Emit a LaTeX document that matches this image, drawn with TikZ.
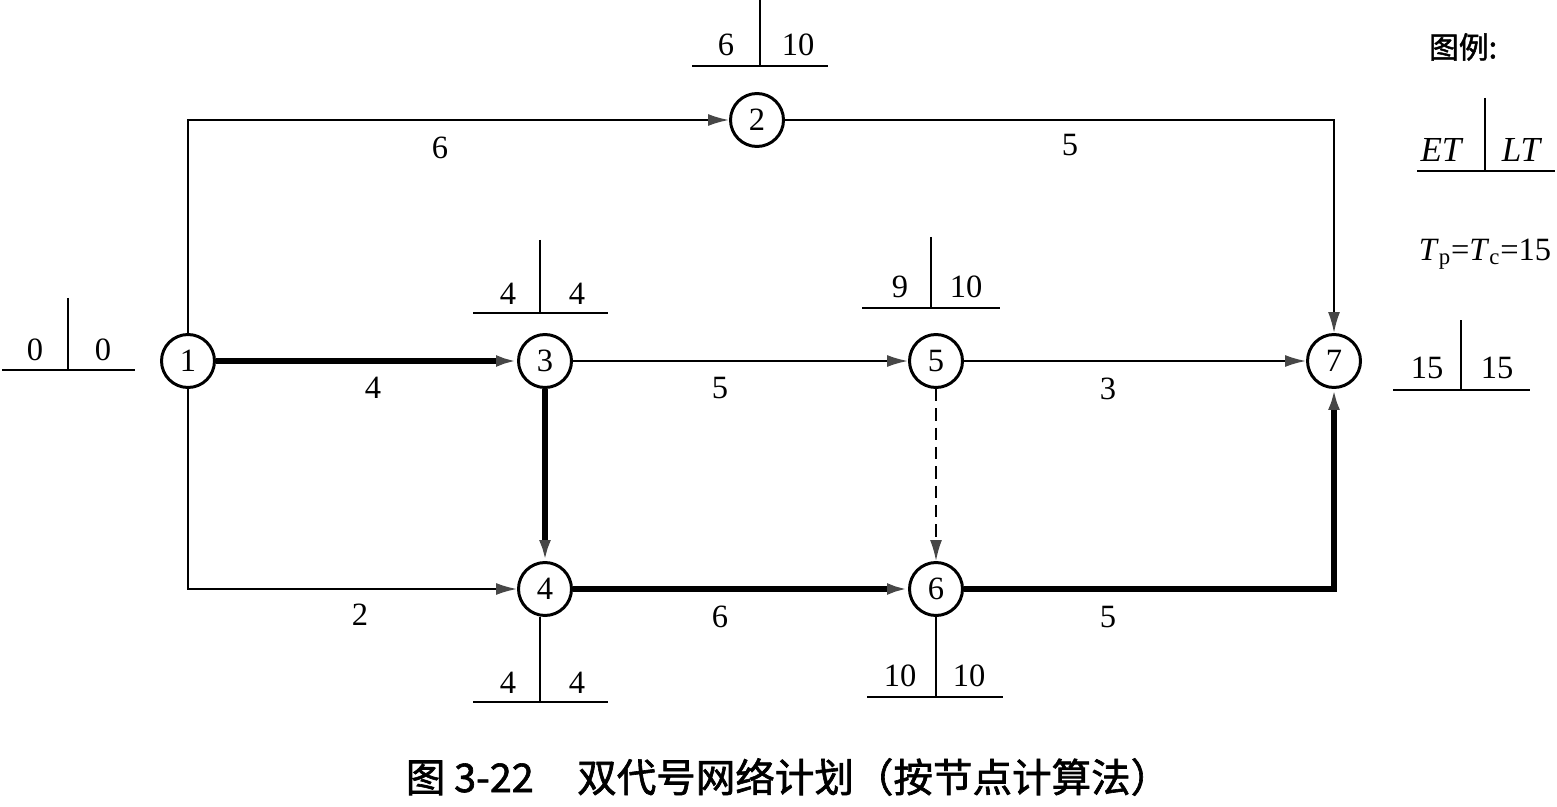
\documentclass[tikz,border=0pt]{standalone}
\usepackage{fontspec}
\setmainfont{Liberation Serif}
\newfontfamily\cjk{Noto Sans CJK SC}[FakeBold=1.6]
\usetikzlibrary{arrows.meta}
\begin{document}
\begin{tikzpicture}[x=0.02cm,y=-0.02cm,
  ev/.style={circle,draw,line width=1.7pt,minimum size=1.06cm,inner sep=0pt,fill=white,
    font=\fontsize{18.5}{20}\selectfont},
  tip/.style={-{Latex[length=0.42cm,width=0.24cm,color=black!72]}},
  act/.style={tip,line width=1.1pt},
  crit/.style={tip,line width=3.4pt},
  dum/.style={act,dash pattern=on 7pt off 4pt},
  num/.style={inner sep=0pt,font=\fontsize{18.5}{20}\selectfont},
  tl/.style={line width=1.1pt}]
\useasboundingbox (0,0) rectangle (1557,807);

% events
\node[ev] (n1) at (188,361) {1};
\node[ev] (n2) at (757,120) {2};
\node[ev] (n3) at (545,361) {3};
\node[ev] (n4) at (545,589) {4};
\node[ev] (n5) at (936,361) {5};
\node[ev] (n6) at (936,589) {6};
\node[ev] (n7) at (1334,361) {7};

% activities
\draw[act] (n1.north) |- (n2.west);
\draw[act] (n2.east) -| (n7.north);
\draw[crit] (n1.east) -- (n3.west);
\draw[act] (n1.south) |- (n4.west);
\draw[act] (n3.east) -- (n5.west);
\draw[crit] (n3.south) -- (n4.north);
\draw[act] (n5.east) -- (n7.west);
\draw[dum] (n5.south) -- (n6.north);
\draw[crit] (n4.east) -- (n6.west);
\draw[crit] (n6.east) -| (n7.south);

% durations
\node[num] (d12) at (440,148) {6};
\node[num] (d27) at (1070,145) {5};
\node[num] (d13) at (373,388) {4};
\node[num] (d14) at (360,615) {2};
\node[num] (d35) at (720,388) {5};
\node[num] (d57) at (1108,389) {3};
\node[num] (d46) at (720,617) {6};
\node[num] (d67) at (1108,617) {5};

% event times
\node[num] (e1a) at (35,350) {0};
\node[num] (e1b) at (103,350) {0};
\draw[tl] (2,370) -- (135,370);
\draw[tl] (68,298) -- (68,370);

\node[num] (e2a) at (726,45) {6};
\node[num] (e2b) at (798,45) {10};
\draw[tl] (692,66) -- (828,66);
\draw[tl] (760,0) -- (760,66);

\node[num] (e3a) at (508,294) {4};
\node[num] (e3b) at (577,294) {4};
\draw[tl] (473,313) -- (608,313);
\draw[tl] (540,240) -- (540,313);

\node[num] (e4a) at (508,683) {4};
\node[num] (e4b) at (577,683) {4};
\draw[tl] (473,702) -- (608,702);
\draw[tl] (n4.south -| 540,0) -- (540,702);

\node[num] (e5a) at (900,287) {9};
\node[num] (e5b) at (966,287) {10};
\draw[tl] (862,308) -- (1000,308);
\draw[tl] (931,237) -- (931,308);

\node[num] (e6a) at (900,676) {10};
\node[num] (e6b) at (969,676) {10};
\draw[tl] (867,697) -- (1003,697);
\draw[tl] (n6.south) -- (n6.south |- 0,697);

\node[num] (e7a) at (1427,368) {15};
\node[num] (e7b) at (1497,368) {15};
\draw[tl] (1393,390) -- (1530,390);
\draw[tl] (1461,320) -- (1461,390);

% legend
\node[inner sep=0pt,font=\cjk\fontsize{17}{19}\selectfont] (lg) at (1463,47) {图例:};
\node[num,font=\fontsize{20}{22}\selectfont\itshape] (let) at (1441,150) {ET};
\node[num,font=\fontsize{20}{22}\selectfont\itshape] (llt) at (1521,150) {LT};
\draw[tl] (1417,171) -- (1555,171);
\draw[tl] (1485,98) -- (1485,171);
\node[num] (tp) at (1485,254) {\textit{T}\textsubscript{p}=\textit{T}\textsubscript{c}=15};

% caption
\node[inner sep=0pt,font=\cjk\fontsize{22.5}{26}\selectfont] (cap) at (788,777)
  {图 3-22\hspace{1.1em}双代号网络计划（按节点计算法）};
\end{tikzpicture}
\end{document}
